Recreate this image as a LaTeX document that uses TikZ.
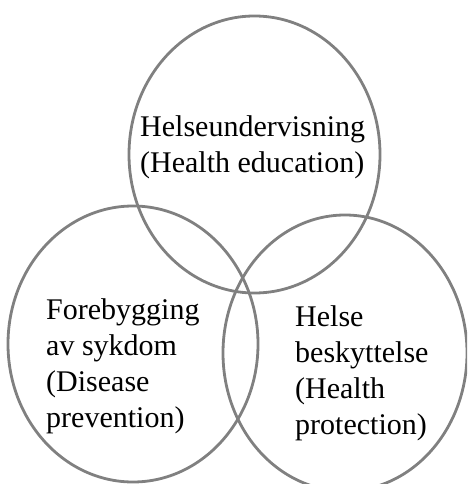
\documentclass[tikz,border=0pt]{standalone}
\usepackage{fontspec}
\setmainfont{Liberation Serif}
\begin{document}
\begin{tikzpicture}[x=1pt,y=-1pt,
  ring/.style={draw={rgb,255:red,128;green,128;blue,128}, line width=2.8pt},
  lbl/.style={font=\fontsize{30}{36}\selectfont, align=left, inner sep=0pt, anchor=base west}]
\useasboundingbox (0,0) rectangle (467,484);
\clip (0,0) rectangle (467,484);
\draw[ring] (254.5,154.5) ellipse [x radius=125.5, y radius=138.5];
\draw[ring] (133,344) ellipse [x radius=125, y radius=138];
\draw[ring] (345,353) ellipse [x radius=122, y radius=138];
\node[lbl] (edu) at (140,172) {Helseundervisning\\(Health education)};
\node[lbl] (prev) at (46,427) {Forebygging\\av sykdom\\(Disease\\prevention)};
\node[lbl] (prot) at (295,434) {Helse\\beskyttelse\\(Health\\protection)};
\end{tikzpicture}
\end{document}
